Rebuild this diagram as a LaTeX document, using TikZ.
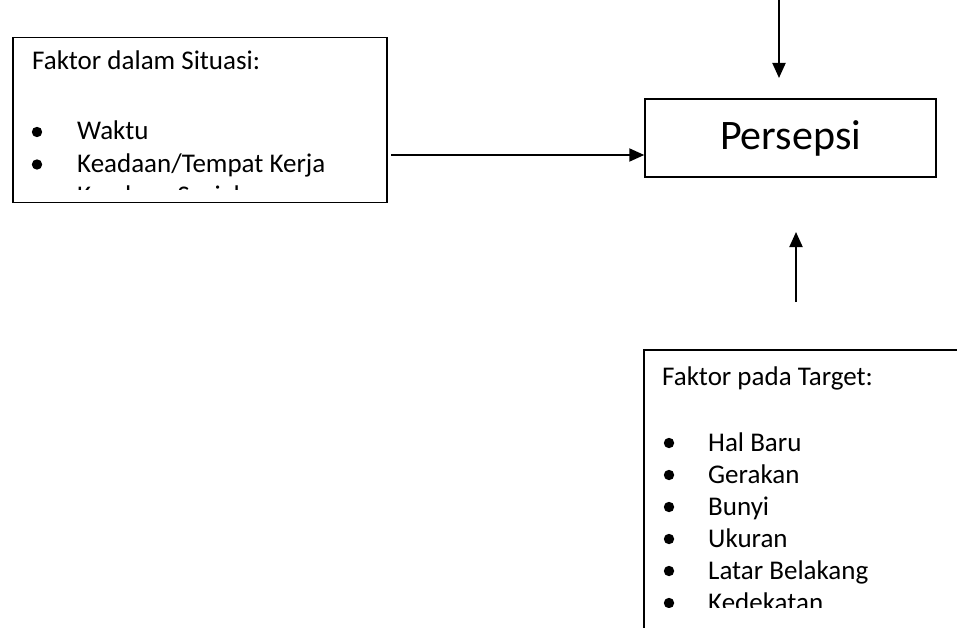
\documentclass[tikz,border=0pt]{standalone}
\usepackage{fontspec}
\setmainfont{Carlito}
\usetikzlibrary{arrows.meta}
\begin{document}
\begin{tikzpicture}[x=1pt,y=-1pt,
  boxline/.style={draw=black,line width=1.5pt,inner sep=0pt},
  arr/.style={line width=2pt,-{Triangle[length=15pt,width=13pt]}},
  txt/.style={anchor=base west,inner sep=0pt,font=\fontsize{27}{33}\selectfont},
  bul/.style={fill=black}]
\useasboundingbox (0,0) rectangle (957,628);
\clip (0,0) rectangle (957,628);

% Persepsi box
\node[boxline, minimum width=291pt, minimum height=78pt,
      font=\fontsize{42}{50}\selectfont] (per) at (790.5,138) {Persepsi};

% left box
\node[boxline, anchor=north west, minimum width=374pt, minimum height=165pt] (sit) at (12,37) {};
\begin{scope}
  \clip (12,37) rectangle (386,190);
  \node[txt] (sitT) at (32,70) {Faktor dalam Situasi:};
  \fill[bul] (37,132) circle (5.2pt);
  \node[txt] (sit1) at (77,140) {Waktu};
  \fill[bul] (37,164.5) circle (5.2pt);
  \node[txt] (sit2) at (77,172.5) {Keadaan/Tempat Kerja};
  \fill[bul] (37,197) circle (5.2pt);
  \node[txt] (sit3) at (77,205) {Keadaan Sosial};
\end{scope}

% right box
\node[boxline, anchor=north west, minimum width=340pt, minimum height=310pt] (tgt) at (643,349) {};
\begin{scope}
  \clip (643,349) rectangle (957,607);
  \node[txt] (tgtT) at (662,385) {Faktor pada Target:};
  \foreach \i/\t [count=\k] in {0/Hal Baru,1/Gerakan,2/Bunyi,3/Ukuran,4/Latar Belakang,5/Kedekatan}{
    \fill[bul] (669,451+32*\i-8) circle (5.2pt);
    \node[txt] (tgt\k) at (708,451+32*\i) {\t};
  }
\end{scope}

% arrows
\coordinate (topS) at (779,0);
\coordinate (topE) at (779,78);
\draw[arr] (topS) -- (topE);
\coordinate (lS) at (391,155);
\draw[arr] (lS) -- (lS -| per.west);
\coordinate (uS) at (796,302);
\coordinate (uE) at (796,232);
\draw[arr] (uS) -- (uE);
\end{tikzpicture}
\end{document}
